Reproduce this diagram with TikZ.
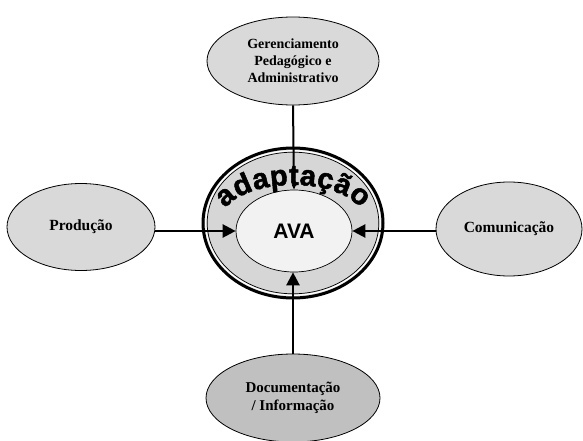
\documentclass[tikz,border=0pt]{standalone}
\usepackage{fontspec}
\setmainfont{Liberation Serif}
\newfontfamily\avafont{Liberation Sans}
\newfontfamily\ringfont{Liberation Sans}[FakeBold=1.8]
\usetikzlibrary{shapes.geometric,arrows.meta,calc,decorations.text}

\definecolor{bubblegray}{HTML}{D9D9D9}
\definecolor{darkbubble}{HTML}{C0C0C0}
\definecolor{ringgray}{HTML}{D6D6D6}
\definecolor{coregray}{HTML}{F2F2F2}

\tikzset{
  bubble/.style={ellipse, draw, line width=0.8pt, fill=bubblegray,
    align=center, inner sep=0pt,
    font=\bfseries\fontsize{14}{17}\selectfont},
  feed/.style={line width=2.4pt,
    -{Triangle[length=13pt,width=13pt]}},
  thinfeed/.style={line width=2pt,
    -{Triangle[length=5pt,width=4pt]}},
}

\begin{document}
\begin{tikzpicture}[x=1pt,y=-1pt]
\useasboundingbox (0,0) rectangle (583,441);

% outer modules
\node[bubble, minimum width=172pt, minimum height=88pt] (ger) at (293,61)
  {Gerenciamento\\Pedagógico e\\Administrativo};
\node[bubble, minimum width=148pt, minimum height=87pt,
  font=\bfseries\fontsize{15.5}{18}\selectfont] (prod) at (81,227)
  {Produção};
\node[bubble, minimum width=146pt, minimum height=94pt,
  font=\bfseries\fontsize{15.5}{18}\selectfont] (com) at (509,229)
  {Comunicação};
\node[bubble, fill=darkbubble, minimum width=174pt, minimum height=88pt,
  font=\bfseries\fontsize{15}{18}\selectfont] (doc) at (293,398)
  {Documentação\\/ Informação};

% adaptation ring around the core
\node[ellipse, draw, line width=3pt, fill=ringgray,
  minimum width=180pt, minimum height=150pt] (ring) at (293,223) {};
\draw[white, line width=1.3pt] (ring.center) ellipse [x radius=87.2, y radius=72.2];
\draw[line width=0.7pt] (ring.center) ellipse [x radius=85.8, y radius=70.8];

% core
\node[ellipse, draw, line width=0.7pt, fill=coregray,
  minimum width=116pt, minimum height=82pt,
  font=\avafont\bfseries\fontsize{21}{21}\selectfont] (ava) at (294,231) {AVA};

% curved word along the ring (baseline arc)
\coordinate (arccenter) at (293,221);
\coordinate (arcstart) at ($(arccenter)+({72*cos(200)},{36*sin(200)})$);
\path[decorate, decoration={text along path,
    text={|\ringfont\bfseries\fontsize{29}{29}\selectfont|adaptação},
    text align=fit to path}]
  (arcstart) arc[start angle=200, end angle=340, x radius=72, y radius=36];

% connectors
\draw[thinfeed] (ger.south) -- (ava.north);
\draw[feed] (prod.east |- ava.west) -- (ava.west);
\draw[feed] (com.west |- ava.east) -- (ava.east);
\draw[feed] (doc.north) -- (doc.north |- ava.south);
\end{tikzpicture}
\end{document}
